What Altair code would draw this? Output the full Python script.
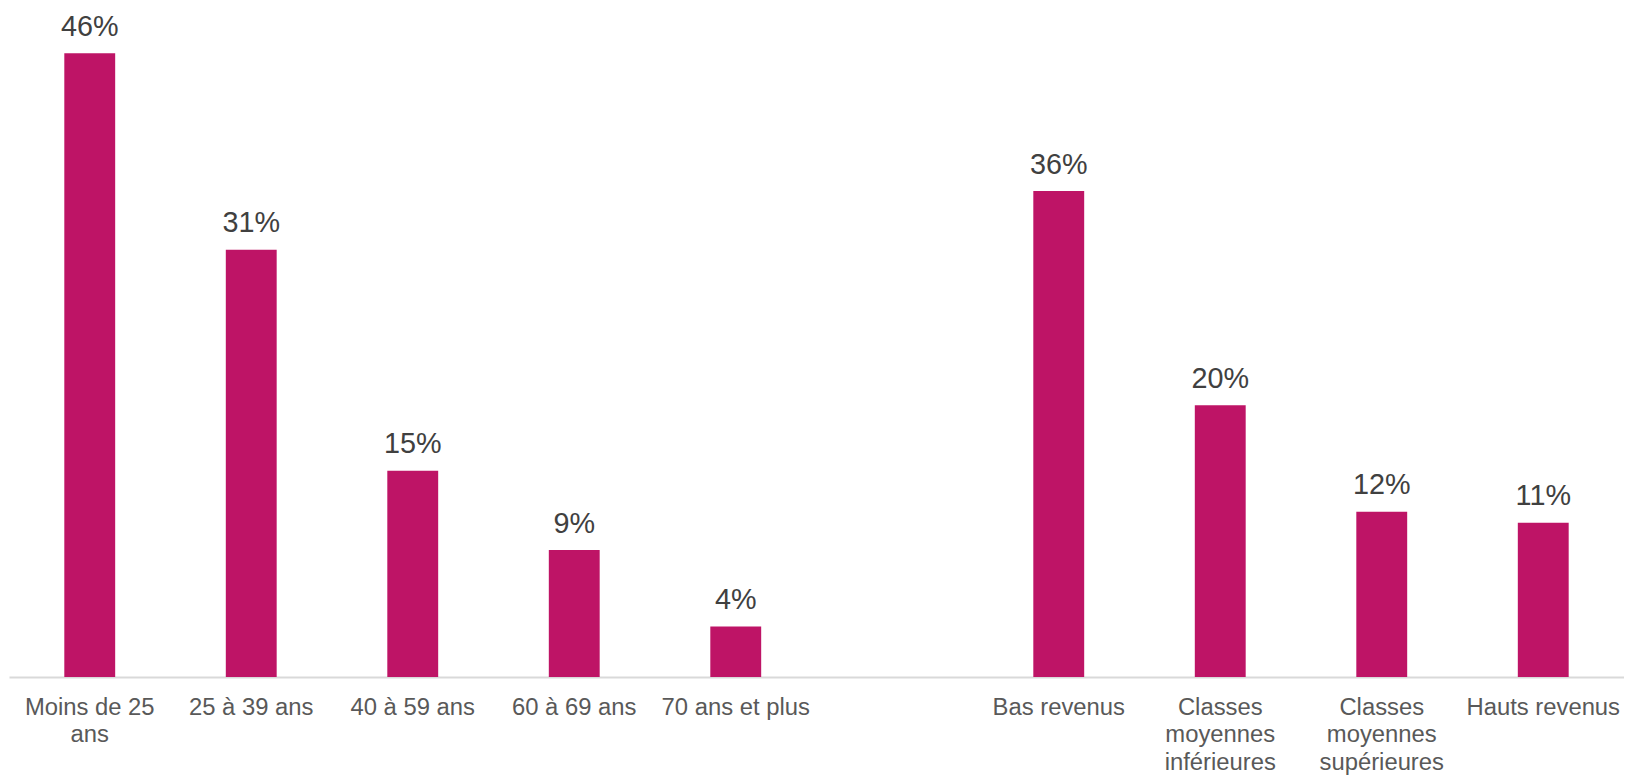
import altair as alt
import pandas as pd

# Data
categories = ["Moins de 25\nans", "25 à 39 ans", "40 à 59 ans", "60 à 69 ans", "70 ans et plus",
              "Bas revenus", "Classes\nmoyennes\ninférieures", "Classes\nmoyennes\nsupérieures",
              "Hauts revenus"]
values = [0.457, 0.313, 0.151, 0.093, 0.037, 0.356, 0.199, 0.121, 0.113]

# the blank slot separating the age groups from the income groups
gap_slot = [" "]
domain = categories[:5] + gap_slot + categories[5:]

df = pd.DataFrame({"cat": categories, "value": values})

BAR = "#BE1466"
FONT = "Liberation Sans"

x = alt.X(
    "cat:N",
    sort=domain,
    scale=alt.Scale(domain=domain, paddingInner=0.685, paddingOuter=0.3425),
    axis=alt.Axis(
        title=None,
        labelAngle=0,
        labelExpr="split(datum.value, '\\n')",
        ticks=False,
        domainColor="#D9D9D9",
        domainWidth=2,
        labelFontSize=24,
        labelColor="#595959",
        labelFont=FONT,
        labelPadding=19,
        labelLineHeight=27.5,
        labelLimit=0,
    ),
)
y = alt.Y("value:Q", scale=alt.Scale(domain=[0, 0.48], nice=False), axis=None)

bars = alt.Chart(df).mark_bar(color=BAR).encode(x=x, y=y)
text = alt.Chart(df).mark_text(
    dy=-17.5, baseline="alphabetic", fontSize=29, color="#404040", font=FONT
).encode(x=x, y=y, text=alt.Text("value:Q", format=".0%"))

chart = (
    alt.layer(bars, text)
    .properties(
        width=1627,
        height=660,
        padding={"left": 1, "top": 11, "right": 0, "bottom": 100},
        autosize=alt.AutoSizeParams(type="none"),
        background="white",
    )
    .configure_view(strokeWidth=0, stroke=None)
)

chart.save("out.html", embed_options={"renderer": "svg", "actions": False})
